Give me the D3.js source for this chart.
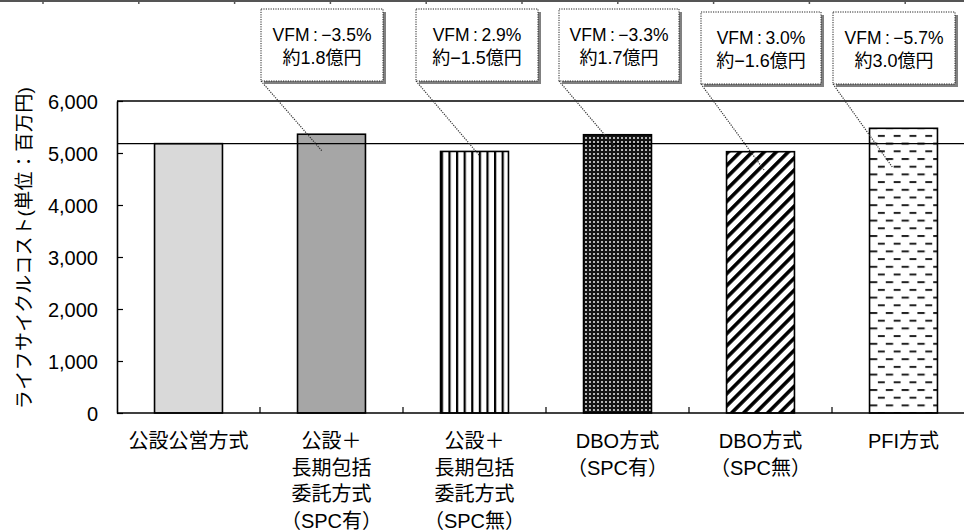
<!DOCTYPE html>
<html>
<head>
<meta charset="utf-8">
<script src="https://cdn.jsdelivr.net/npm/d3@7"></script>
<style>
  html, body { margin: 0; padding: 0; background: #fff; }
  svg { display: block; }
  text { font-family: "Liberation Sans", Arial, "Noto Sans CJK JP", sans-serif; fill: #000; }
</style>
</head>
<body>
<svg id="chart" width="964" height="532"></svg>
<script>
// Life-cycle cost per delivery scheme (unit: million yen)
const categories = [
  ["公設公営方式"],
  ["公設＋", "長期包括", "委託方式", "（SPC有）"],
  ["公設＋", "長期包括", "委託方式", "（SPC無）"],
  ["DBO方式", "（SPC有）"],
  ["DBO方式", "（SPC無）"],
  ["PFI方式"]
];
const costs = [5180, 5361, 5030, 5351, 5025, 5475];
const baselineCost = 5180;
const yTicks = [0, 1000, 2000, 3000, 4000, 5000, 6000];
const vfmLabels = ["VFM\u2009:\u2009−3.5%", "VFM\u2009:\u20092.9%", "VFM\u2009:\u2009−3.3%", "VFM\u2009:\u20093.0%", "VFM\u2009:\u2009−5.7%"];
const amountLabels = ["約1.8億円", "約−1.5億円", "約1.7億円", "約−1.6億円", "約3.0億円"];
const yTitle = "ライフサイクルコスト(単位：百万円)";

const svg = d3.select("#chart");
const W = 964;
const plot = { left: 117, right: 975, top: 101, bottom: 413 };

const x = d3.scaleBand()
  .domain(d3.range(categories.length))
  .range([plot.left, plot.right])
  .paddingInner(0.525)
  .paddingOuter(0.2625);
const y = d3.scaleLinear().domain([0, 6000]).range([plot.bottom, plot.top]);

// ---- fill patterns ----
const defs = svg.append("defs");

const pv = defs.append("pattern").attr("id", "vlines")
  .attr("patternUnits", "userSpaceOnUse").attr("width", 7.6).attr("height", 10);
pv.append("rect").attr("width", 7.6).attr("height", 10).attr("fill", "#fff");
pv.append("rect").attr("x", 0).attr("width", 2.2).attr("height", 10).attr("fill", "#000");

const pg = defs.append("pattern").attr("id", "grid")
  .attr("patternUnits", "userSpaceOnUse").attr("width", 4).attr("height", 4);
pg.append("rect").attr("width", 4).attr("height", 4).attr("fill", "#141414");
pg.append("rect").attr("x", 1).attr("y", 1).attr("width", 2).attr("height", 2).attr("fill", "#b5b5b5");

const pd = defs.append("pattern").attr("id", "diag")
  .attr("patternUnits", "userSpaceOnUse").attr("width", 8.5).attr("height", 8.5)
  .attr("patternTransform", "rotate(45)");
pd.append("rect").attr("width", 8.5).attr("height", 8.5).attr("fill", "#fff");
pd.append("rect").attr("x", 0).attr("width", 3.6).attr("height", 8.5).attr("fill", "#000");

const ph = defs.append("pattern").attr("id", "dashes")
  .attr("patternUnits", "userSpaceOnUse").attr("width", 15.8).attr("height", 15.4)
  .attr("x", 0).attr("y", 4);
ph.append("rect").attr("width", 15.8).attr("height", 15.4).attr("fill", "#fff");
ph.append("rect").attr("x", 1).attr("y", 0).attr("width", 7.3).attr("height", 2).attr("fill", "#222");
ph.append("rect").attr("x", 8.9).attr("y", 7.7).attr("width", 7.3).attr("height", 2).attr("fill", "#222");

const fills = ["#d9d9d9", "#a6a6a6", "url(#vlines)", "url(#grid)", "url(#diag)", "url(#dashes)"];

// ---- page rule at the very top ----
svg.append("line").attr("x1", 0).attr("x2", W).attr("y1", 1).attr("y2", 1)
  .attr("stroke", "#555").attr("stroke-width", 2);
svg.append("g").selectAll("line").data(d3.range(43, W, 95.8)).join("line")
  .attr("x1", d => d).attr("x2", d => d).attr("y1", 0).attr("y2", 4)
  .attr("stroke", "#555").attr("stroke-width", 1.5);

// ---- bars ----
svg.append("g").selectAll("rect").data(costs).join("rect")
  .attr("x", (d, i) => x(i))
  .attr("y", d => y(d))
  .attr("width", x.bandwidth())
  .attr("height", d => y(0) - y(d))
  .attr("fill", (d, i) => fills[i])
  .attr("stroke", "#000").attr("stroke-width", 1.6);

// ---- plot frame: top border, baseline reference, axes ----
svg.append("line").attr("x1", plot.left).attr("x2", W).attr("y1", plot.top).attr("y2", plot.top)
  .attr("stroke", "#000").attr("stroke-width", 1.6);
svg.append("line").attr("x1", plot.left).attr("x2", W)
  .attr("y1", y(baselineCost)).attr("y2", y(baselineCost))
  .attr("stroke", "#000").attr("stroke-width", 1.2);

const yAxis = d3.axisLeft(y).tickValues(yTicks).tickFormat(d3.format(",")).tickSizeInner(-6).tickSizeOuter(0).tickPadding(19);
const gy = svg.append("g").attr("transform", `translate(${plot.left},0)`).call(yAxis);
gy.select(".domain").attr("stroke", "#000").attr("stroke-width", 1.6);
gy.selectAll(".tick line").attr("stroke", "#000").attr("stroke-width", 1.2);
gy.selectAll(".tick text").style("font-size", "20px").attr("dy", "0.36em");

// bottom axis line with inward ticks at category boundaries
svg.append("line").attr("x1", plot.left).attr("x2", W).attr("y1", plot.bottom).attr("y2", plot.bottom)
  .attr("stroke", "#000").attr("stroke-width", 1.6);
svg.append("g").selectAll("line").data(d3.range(1, categories.length)).join("line")
  .attr("x1", i => x(i) - x.step() * x.paddingInner() / 2)
  .attr("x2", i => x(i) - x.step() * x.paddingInner() / 2)
  .attr("y1", plot.bottom).attr("y2", plot.bottom - 6)
  .attr("stroke", "#000").attr("stroke-width", 1.2);

// category labels
const catG = svg.append("g");
categories.forEach((lines, i) => {
  const t = catG.append("text")
    .attr("text-anchor", "middle")
    .style("font-size", "20px");
  lines.forEach((s, k) => {
    t.append("tspan").attr("x", x(i) + x.bandwidth() / 2)
      .attr("y", 448 + k * 26.5).text(s);
  });
});

// y axis title
svg.append("text")
  .attr("transform", `translate(31,${(plot.top + plot.bottom) / 2 - 9}) rotate(-90)`)
  .attr("text-anchor", "middle")
  .style("font-size", "19px").style("letter-spacing", "0.4px")
  .text(yTitle);

// ---- VFM callouts ----
const boxes = [
  { bx: 261, by: 9,  w: 122, h: 72, tx: 322, ty: 151 },
  { bx: 416, by: 9,  w: 122, h: 72, tx: 479, ty: 155 },
  { bx: 559, by: 9,  w: 120, h: 72, tx: 615, ty: 147 },
  { bx: 701, by: 12, w: 120, h: 72, tx: 764, ty: 170 },
  { bx: 833, by: 12, w: 122, h: 72, tx: 893, ty: 168 }
];
const callG = svg.append("g");
boxes.forEach((b, i) => {
  callG.append("line")
    .attr("x1", b.bx).attr("y1", b.by + b.h).attr("x2", b.tx).attr("y2", b.ty)
    .attr("stroke", "#333").attr("stroke-width", 1.2).attr("stroke-dasharray", "1.2,1.2");
  callG.append("rect").attr("x", b.bx + 3).attr("y", b.by + 3).attr("width", b.w).attr("height", b.h)
    .attr("fill", "#808080");
  callG.append("rect").attr("x", b.bx).attr("y", b.by).attr("width", b.w).attr("height", b.h)
    .attr("fill", "#fff").attr("stroke", "#222").attr("stroke-width", 1)
    .attr("stroke-dasharray", "1.2,1.2");
  const cx = b.bx + b.w / 2;
  callG.append("text").attr("x", cx).attr("y", b.by + 32).attr("text-anchor", "middle")
    .style("font-size", "17.5px").text(vfmLabels[i]);
  callG.append("text").attr("x", cx).attr("y", b.by + 55).attr("text-anchor", "middle")
    .style("font-size", "18px").text(amountLabels[i]);
});
</script>
</body>
</html>
